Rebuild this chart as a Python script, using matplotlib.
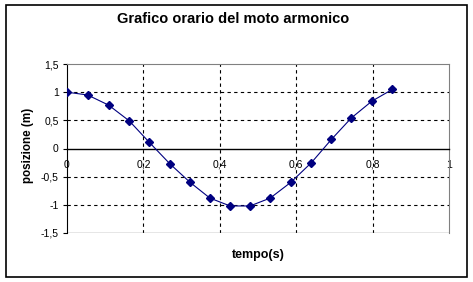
import matplotlib
matplotlib.use("Agg")
import matplotlib.pyplot as plt
from matplotlib.patches import Rectangle

plt.rcParams['font.family'] = ['Liberation Sans', 'DejaVu Sans']

title = "Grafico orario del moto armonico"
xlabel = "tempo(s)"
ylabel = "posizione (m)"

tempo = [0.0, 0.054, 0.109, 0.163, 0.214, 0.269, 0.322, 0.374, 0.427,
         0.479, 0.532, 0.586, 0.640, 0.692, 0.744, 0.798, 0.852]
posizione = [1.0, 0.95, 0.77, 0.49, 0.12, -0.27, -0.60, -0.88, -1.02,
             -1.02, -0.88, -0.60, -0.25, 0.16, 0.54, 0.84, 1.05]

xticks = [0, 0.2, 0.4, 0.6, 0.8, 1]
xticklabels = ["0", "0,2", "0,4", "0,6", "0,8", "1"]
yticks = [-1.5, -1, -0.5, 0, 0.5, 1, 1.5]
yticklabels = ["-1,5", "-1", "-0,5", "0", "0,5", "1", "1,5"]

W, H = 473, 282
fig = plt.figure(figsize=(W / 100, H / 100), dpi=100)
fig.patch.set_facecolor('white')

# outer chart border
fig.patches.append(Rectangle((6 / W, 1 - 277 / H), (467 - 6) / W, (277 - 5) / H,
                             transform=fig.transFigure, fill=False,
                             edgecolor='black', linewidth=1.2))

ax = fig.add_axes([67 / W, 1 - 233 / H, (449 - 67) / W, (233 - 64) / H])
ax.set_xlim(0, 1)
ax.set_ylim(-1.5, 1.5)

# grid lines
for gx in [0.2, 0.4, 0.6, 0.8]:
    ax.axvline(gx, color='black', linestyle=(0, (3, 3)), linewidth=0.8, zorder=1)
for gy in [-1, -0.5, 0.5, 1]:
    ax.axhline(gy, color='black', linestyle=(0, (3, 3)), linewidth=0.8, zorder=1)

ax.plot(tempo, posizione, color='#000080', linewidth=0.8, marker='D',
        markersize=4.4, markerfacecolor='#000080', markeredgecolor='#000080', zorder=3)

ax.spines['top'].set_color('#808080')
ax.spines['right'].set_color('#808080')
ax.spines['left'].set_color('black')
ax.spines['bottom'].set_position(('data', 0))
ax.spines['bottom'].set_color('black')
ax.spines['bottom'].set_linewidth(1.0)
ax.axhline(-1.5, color='#808080', linewidth=1.0, zorder=2)

ax.set_xticks(xticks)
ax.set_xticklabels(xticklabels, fontsize=7.5)
ax.tick_params(axis='x', length=0, pad=8)
ax.set_yticks(yticks)
ax.set_yticklabels(yticklabels, fontsize=7.5)
ax.tick_params(axis='y', length=3, width=0.8, pad=3)

fig.text(233.5 / W, 1 - 19 / H, title, fontsize=10.5, fontweight='bold',
         ha='center', va='center')
fig.text(258 / W, 1 - 255 / H, xlabel, fontsize=9, fontweight='bold',
         ha='center', va='center')
fig.text(28.5 / W, 1 - 145 / H, ylabel, fontsize=8.4, fontweight='bold',
         ha='center', va='center', rotation=90)

fig.savefig("out.png", dpi=100)
